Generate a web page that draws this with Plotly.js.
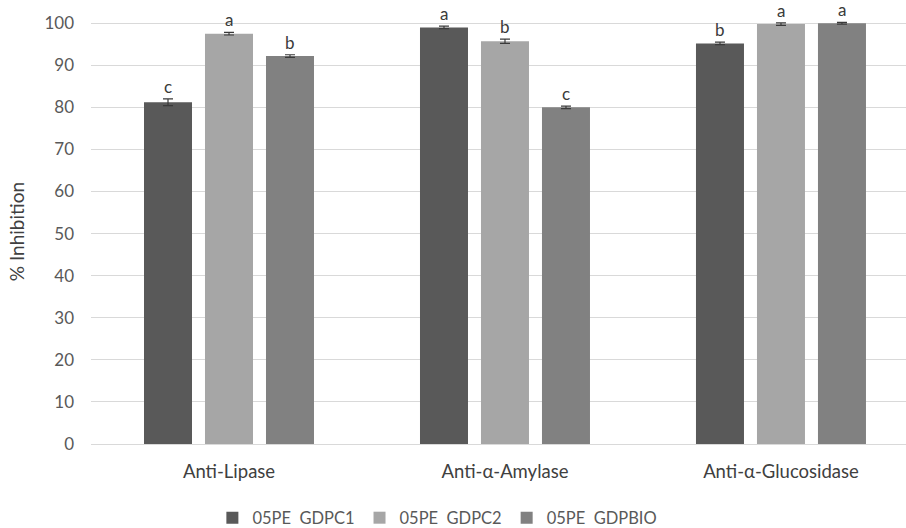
<!DOCTYPE html>
<html>
<head>
<meta charset="utf-8">
<script src="https://cdn.plot.ly/plotly-3.0.1.min.js"></script>
<style>html,body{margin:0;padding:0;background:#fff;}#chart{width:906px;height:528px;}</style>
</head>
<body>
<div id="chart"></div>
<script>
const categories = ['Anti-Lipase', 'Anti-\u03b1-Amylase', 'Anti-\u03b1-Glucosidase'];
const seriesNames = ['05PE  GDPC1', '05PE  GDPC2', '05PE  GDPBIO'];
const gdpc1 = [81.2, 99.0, 95.2];
const gdpc2 = [97.5, 95.7, 99.8];
const gdpbio = [92.2, 80.0, 100.0];
const err1 = [0.8, 0.3, 0.3];
const err2 = [0.3, 0.5, 0.3];
const err3 = [0.3, 0.3, 0.2];
const letters1 = ['c', 'a', 'b'];
const letters2 = ['a', 'b', 'a'];
const letters3 = ['b', 'c', 'a'];
const yTicks = [0, 10, 20, 30, 40, 50, 60, 70, 80, 90, 100];

const colors = ['#595959', '#a6a6a6', '#818181'];
const values = [gdpc1, gdpc2, gdpbio];
const errs = [err1, err2, err3];
const letters = [letters1, letters2, letters3];

const bargap = 0.337;
const slot = (1 - bargap) / 3;
const FONT = 'Lato, "Open Sans", sans-serif';

const traces = values.map((v, i) => ({
  type: 'bar',
  name: seriesNames[i],
  x: categories,
  y: v,
  marker: {color: colors[i]},
  error_y: {type: 'data', array: errs[i], visible: true, color: '#3a3a3a', thickness: 1.2, width: 5}
}));

const annotations = [];
values.forEach((v, i) => {
  v.forEach((val, j) => {
    annotations.push({
      x: j + (i - 1) * slot,
      y: val + errs[i][j],
      xref: 'x', yref: 'y',
      text: letters[i][j],
      showarrow: false,
      yanchor: 'bottom',
      yshift: 0,
      font: {family: FONT, size: 17, color: '#3a3a3a'}
    });
  });
});

const layout = {
  width: 906, height: 528,
  margin: {l: 91, r: 0, t: 19, b: 84, autoexpand: false},
  paper_bgcolor: '#ffffff', plot_bgcolor: '#ffffff',
  barmode: 'group', bargap: bargap, bargroupgap: 0.213,
  font: {family: FONT, color: '#595959', size: 17},
  xaxis: {
    type: 'category',
    range: [-0.5, 2.453],
    showgrid: false, zeroline: false, showline: false,
    ticks: '', tickfont: {size: 18.5, color: '#404040'},
    ticklabelstandoff: 14, automargin: false
  },
  yaxis: {
    range: [0, 101], tickvals: yTicks,
    showgrid: true, gridcolor: '#d9d9d9', gridwidth: 1,
    zeroline: true, zerolinecolor: '#d9d9d9', zerolinewidth: 1,
    showline: false, ticks: '',
    tickfont: {size: 17, color: '#595959'},
    ticklabelstandoff: 16, automargin: false,
    title: {text: '% Inhibition', font: {size: 19, color: '#404040'}, standoff: 14}
  },
  legend: {
    orientation: 'h', x: 0.425, xanchor: 'center',
    yref: 'container', y: 0.019, yanchor: 'middle',
    font: {size: 16.5, color: '#595959'}, itemwidth: 30, traceorder: 'normal'
  },
  annotations: annotations,
  showlegend: true
};

Plotly.newPlot('chart', traces, layout, {displayModeBar: false, staticPlot: true});
</script>
</body>
</html>
